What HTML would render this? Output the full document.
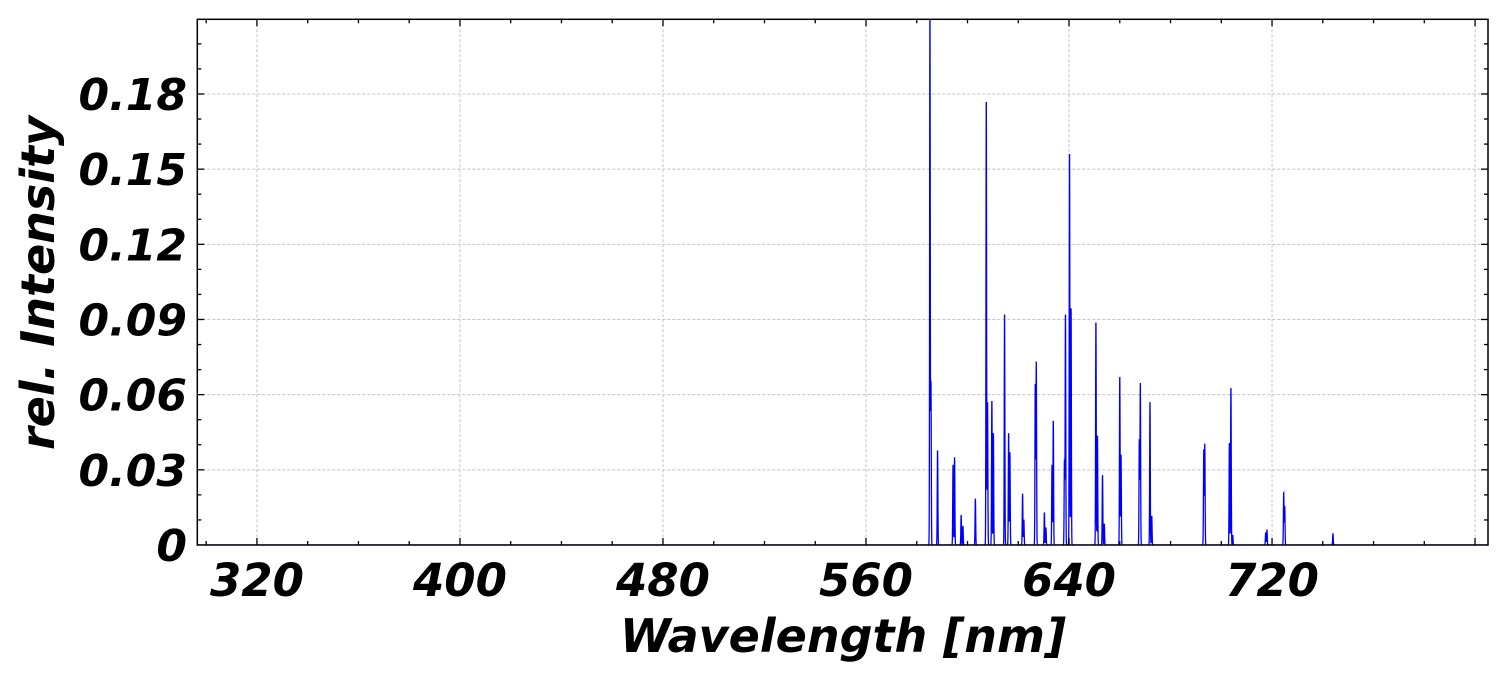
<!DOCTYPE html>
<html><head><meta charset="utf-8"><style>
html,body{margin:0;padding:0;background:#fff;}
svg text{font-family:"DejaVu Sans","Liberation Sans",sans-serif;font-weight:bold;font-style:italic;fill:#000;}
</style></head><body>
<svg id="chart" width="1509" height="672" xmlns="http://www.w3.org/2000/svg"></svg>
<script>
const xTicks=[320,400,480,560,640,720,800];
const xTickLabels=["320","400","480","560","640","720",""];
const yTicks=[0,0.03,0.06,0.09,0.12,0.15,0.18];
const yTickLabels=["0","0.03","0.06","0.09","0.12","0.15","0.18"];
const lineWavelengths=[585.2,585.6,588.2,594.3,594.9,597.5,598.2,603.1,607.4,607.9,609.6,610.2,614.6,616.2,616.7,621.7,622.2,626.7,627.1,630.3,630.9,633.3,633.8,638.2,638.6,640.2,640.8,650.6,651.2,653.2,653.9,660.0,660.5,667.7,668.1,671.9,672.6,693.1,693.5,703.2,703.8,704.5,717.5,718.0,724.6,725.0,744.0];
const lineIntensities=[0.215,0.065,0.038,0.032,0.035,0.012,0.0075,0.0185,0.179,0.057,0.058,0.045,0.093,0.045,0.037,0.0205,0.01,0.064,0.073,0.013,0.007,0.032,0.050,0.034,0.093,0.158,0.0955,0.0898,0.044,0.028,0.0085,0.0677,0.036,0.042,0.0645,0.057,0.0115,0.038,0.0403,0.041,0.0632,0.004,0.005,0.006,0.021,0.0155,0.0045];

const NS="http://www.w3.org/2000/svg";
const svg=document.getElementById('chart');
const L=197.3,R=1488,T=19.3,B=545;
const xMin=296.5,xMax=805.1,yMin=0,yMax=0.2098;
const xs=v=>L+(v-xMin)/(xMax-xMin)*(R-L);
const ys=v=>B-(v-yMin)/(yMax-yMin)*(B-T);
function mk(tag,attrs,parent){const e=document.createElementNS(NS,tag);for(const k in attrs)e.setAttribute(k,attrs[k]);(parent||svg).appendChild(e);return e;}

const defs=mk('clipPath',{id:'clip'});mk('rect',{x:L,y:T,width:R-L,height:B-T},defs);

const grid=mk('g',{});


xTicks.forEach(v=>mk('line',{x1:xs(v),x2:xs(v),y1:T,y2:B,stroke:'#c4c4c4','stroke-width':1,'stroke-dasharray':'3,2'},grid));
yTicks.forEach(v=>{if(v>0)mk('line',{x1:L,x2:R,y1:ys(v),y2:ys(v),stroke:'#c4c4c4','stroke-width':1,'stroke-dasharray':'3,2'},grid);});

let pts=[];
const sig=0.12;
for(let w=xMin;w<=xMax;w+=0.04){
  let s=0;
  for(let i=0;i<lineWavelengths.length;i++){const d=(w-lineWavelengths[i])/sig;if(Math.abs(d)<6)s+=lineIntensities[i]*Math.exp(-0.5*d*d);}
  pts.push(xs(w).toFixed(2)+','+ys(s).toFixed(2));
}
const line=mk('polyline',{points:pts.join(' '),fill:'none',stroke:'#0000ff','stroke-width':1.3,'clip-path':'url(#clip)'});



const frame=mk('rect',{x:L,y:T,width:R-L,height:B-T,fill:'none',stroke:'#000','stroke-width':1.5});



const ticks=mk('g',{stroke:'#000','stroke-width':1.3});


for(let v=300;v<=xMax;v+=20){
  const major=(v-320)%80===0;const len=major?7:4;const x=xs(v);
  if(x<L)continue;
  mk('line',{x1:x,x2:x,y1:B,y2:B-len},ticks);mk('line',{x1:x,x2:x,y1:T,y2:T+len},ticks);
}
for(let k=1;k<=20;k++){
  const v=k*0.01;if(v>yMax)break;const major=k%3===0;const len=major?7:4;const y=ys(v);
  mk('line',{x1:L,x2:L+len,y1:y,y2:y},ticks);mk('line',{x1:R,x2:R-len,y1:y,y2:y},ticks);
}

xTicks.forEach((v,i)=>{
  const t=mk('text',{x:xs(v),y:596,'text-anchor':'middle','font-size':45});
  t.textContent=xTickLabels[i];
  
  
});
yTicks.forEach((v,i)=>{
  const t=mk('text',{x:187,y:ys(v)+16,'text-anchor':'end','font-size':44});
  t.textContent=yTickLabels[i];
  
  
});
const xl=mk('text',{x:843,y:652,'text-anchor':'middle','font-size':46});
xl.textContent='Wavelength [nm]';


const yl=mk('text',{x:0,y:0,'text-anchor':'middle','font-size':46,transform:'translate(54,283) rotate(-90)'});
yl.textContent='rel. Intensity';


</script>
</body></html>
